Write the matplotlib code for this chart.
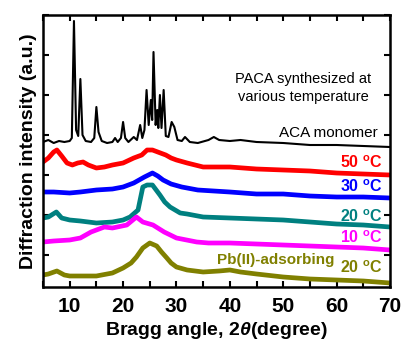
import matplotlib
matplotlib.use('Agg')
import matplotlib.pyplot as plt
import numpy as np

plt.rcParams['font.family'] = ['Liberation Sans', 'DejaVu Sans']
plt.rcParams['mathtext.fontset'] = 'custom'
plt.rcParams['mathtext.rm'] = 'Liberation Sans:bold'
plt.rcParams['mathtext.it'] = 'Liberation Sans:italic:bold'
plt.rcParams['mathtext.bf'] = 'Liberation Sans:bold'

# 2theta (degree) / stacked intensity (a.u.)
aca_x = [5.0, 6.0, 7.0, 8.0, 9.0, 10.0, 10.4, 10.8, 11.2, 11.6, 12.0, 12.4, 13.0, 14.0,
         14.6, 15.0, 15.4, 16.0, 17.0, 18.0, 18.5, 19.0, 19.6, 20.0, 20.4, 21.0, 22.0,
         22.6, 23.2, 23.6, 24.0, 24.4, 24.8, 25.2, 25.45, 25.7, 26.1, 26.4, 26.6, 26.9,
         27.2, 27.6, 28.0, 28.5, 29.1, 29.6, 30.2, 31.0, 31.6, 32.5, 34.0, 36.0, 37.0,
         38.0, 40.0, 42.0, 45.0, 50.0, 55.0, 60.0, 65.0, 70.0]
aca_y = [145, 147, 144, 146, 145, 146, 149, 266, 157, 151, 208, 152, 146, 145,
         149, 180, 155, 146, 144, 145, 149, 145, 149, 165, 149, 145, 150,
         147, 162, 149, 157, 197, 162, 187, 167, 235, 162, 177, 159, 192,
         159, 197, 151, 150, 165, 160, 147, 146, 150, 145, 144, 147, 150,
         147, 146, 147, 145, 144, 142, 142, 141, 140]

t50_x = [5.0, 6.0, 7.0, 7.6, 8.5, 9.5, 10.5, 11.5, 12.5, 13.5, 15.0, 16.5, 18.0, 20.0,
         22.0, 23.5, 24.5, 25.5, 26.5, 28.0, 29.0, 30.0, 32.0, 35.0, 40.0, 45.0, 50.0,
         55.0, 60.0, 65.0, 70.0]
t50_y = [125, 129, 135, 137, 131, 124, 122, 124, 125, 122, 119, 120, 122, 124,
         129, 132, 137, 137, 135, 132, 129, 127, 124, 120, 120, 118, 117,
         116, 114, 113, 112]

t30_x = [5, 7, 10, 12, 15, 18, 20, 22, 24, 25.5, 26.5, 27.5, 29, 31, 34, 40, 45, 50,
         55, 60, 65, 70]
t30_y = [95, 95, 94, 95, 97, 98, 100, 104, 110, 114, 111, 107, 103, 100, 97, 95, 93, 93,
         91, 90, 90, 89]

t20_x = [5, 6, 7.5, 8.5, 10, 12, 15, 18, 20, 21.3, 22.8, 23.7, 24.5, 25.5, 26.9, 27.8,
         28.8, 30.7, 32, 35, 40, 45, 50, 55, 60, 65, 70]
t20_y = [69, 70, 75, 69, 67, 66, 64, 65, 67, 70, 77, 100, 102, 102, 92, 85,
         80, 74, 73, 70, 69, 68, 67, 65, 63, 62, 60]

t10_x = [5, 7, 10, 12, 14, 16.5, 18, 20.7, 22.5, 23.7, 25.6, 27.7, 30, 33.8, 36, 40, 45,
         50, 55, 60, 65, 70]
t10_y = [45, 46, 47, 49, 55, 60, 59, 62, 70, 65, 62, 55, 49, 45, 44, 44, 43,
         42, 41, 40, 39, 37]

pb_x = [5, 6, 7.6, 9, 10, 12, 15, 18, 20, 21.5, 22.5, 23.7, 25, 26.3, 27.2, 28.2, 29,
        30, 32, 35, 38, 40, 42, 45, 50, 55, 60, 65, 70]
pb_y = [12, 13, 16, 12, 11, 11, 11, 14, 19, 24, 30, 39, 44, 41, 35, 29, 24,
        20, 17, 15, 16, 17, 15, 13, 10, 8, 7, 6, 4]

series = [(aca_x, aca_y, 'black', 1.5),
          (t50_x, t50_y, '#ff0000', 3.4),
          (t30_x, t30_y, '#0000ff', 3.4),
          (t20_x, t20_y, '#008080', 3.4),
          (t10_x, t10_y, '#ff00ff', 3.4),
          (pb_x, pb_y, '#808000', 3.4)]

fig = plt.figure(figsize=(4.01, 3.42), dpi=100)
ax = fig.add_axes([43 / 401, 55 / 342, 347 / 401, 272 / 342])

for xs, ys, c, lw in series:
    ax.plot(xs, ys, color=c, lw=lw, solid_joinstyle='round')

ax.set_xlim(5, 70)
ax.set_ylim(0, 272)
ax.set_xticks(np.arange(10, 71, 10))
ax.set_xticks(np.arange(5, 71, 10), minor=True)
ax.set_yticks(np.arange(32, 273, 40))
ax.set_yticklabels([])
ax.tick_params(which='both', direction='in', top=True, right=True, width=1.5)
ax.tick_params(which='major', length=4, pad=7, labelsize=15)
ax.tick_params(which='minor', length=4)
for lab in ax.get_xticklabels():
    lab.set_fontweight('bold')
for s in ax.spines.values():
    s.set_linewidth(1.8)

ax.set_xlabel(r'Bragg angle, $2\theta$(degree)', fontsize=14, fontweight='bold', labelpad=3)
ax.set_ylabel('Diffraction intensity (a.u.)', fontsize=14, fontweight='bold', labelpad=-3)

ax.text(53.7, 199, 'PACA synthesized at\nvarious temperature', ha='center', va='center',
        fontsize=10.5, linespacing=1.35)
ax.text(67.7, 154, 'ACA monomer', ha='right', va='center', fontsize=11)

deg = r'$^{\mathrm{o}}$C'
labels = [('50 ' + deg, 124, '#ff0000'),
          ('30 ' + deg, 100, '#0000ff'),
          ('20 ' + deg, 70, '#008080'),
          ('10 ' + deg, 49, '#ff00ff'),
          ('20 ' + deg, 19, '#808000')]
for txt, yy, c in labels:
    ax.text(68.7, yy, txt, ha='right', va='center', fontsize=11.5, fontweight='bold', color=c)
ax.text(37.6, 27, 'Pb(II)-adsorbing', ha='left', va='center', fontsize=11,
        fontweight='bold', color='#808000')

fig.savefig('out.png', dpi=100)
